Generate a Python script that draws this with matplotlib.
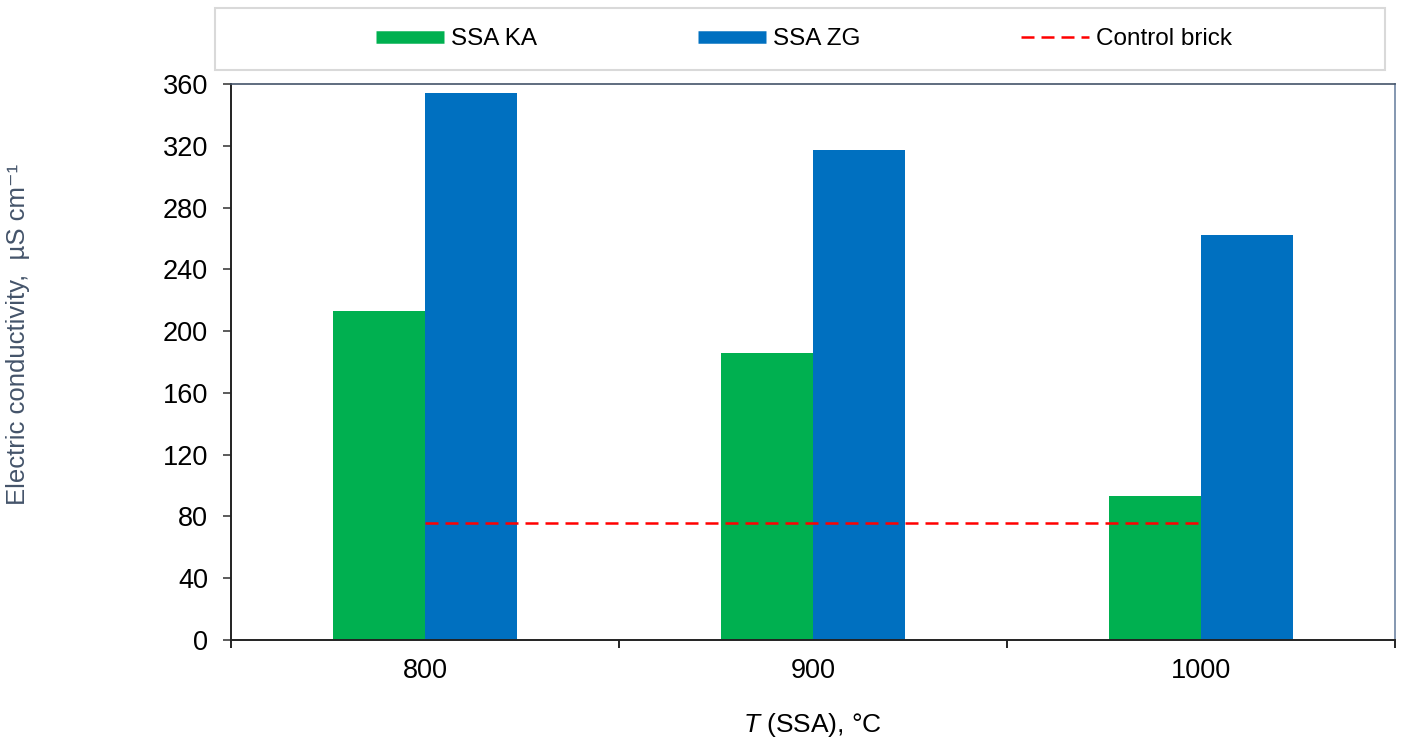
import matplotlib
matplotlib.use("Agg")
import matplotlib.pyplot as plt
from matplotlib.lines import Line2D
from matplotlib.patches import Rectangle
import numpy as np

plt.rcParams["font.family"] = ["Liberation Sans", "DejaVu Sans"]
plt.rcParams["mathtext.fontset"] = "custom"
plt.rcParams["mathtext.rm"] = "Liberation Sans"
plt.rcParams["mathtext.it"] = "Liberation Sans:italic"

# data
temperatures = ["800", "900", "1000"]
ssa_ka = [213, 186, 93]
ssa_zg = [354, 317, 262]
control_brick = [76, 76, 76]

y_ticks = [0, 40, 80, 120, 160, 200, 240, 280, 320, 360]

GREEN = "#00B050"
BLUE = "#0070C0"
RED = "#FF0000"
TICK_FS = 19.5
LEG_FS = 17.5

fig = plt.figure(figsize=(14.22, 7.41), dpi=100)
ax = fig.add_axes([0.1624, 0.1363, 0.8186, 0.7503])

x = np.arange(len(temperatures))
w = 0.237
ax.bar(x - w / 2, ssa_ka, width=w, color=GREEN, zorder=2)
ax.bar(x + w / 2, ssa_zg, width=w, color=BLUE, zorder=2)
ax.plot(x, control_brick, color=RED, lw=1.8, linestyle=(0, (5.2, 2.8)), zorder=3)

ax.set_xlim(-0.5, len(temperatures) - 0.5)
ax.set_ylim(0, 360)
ax.set_yticks(y_ticks)
ax.set_yticklabels([str(v) for v in y_ticks], fontsize=TICK_FS)

# category boundaries carry the ticks, centres carry the labels
ax.set_xticks(np.arange(len(temperatures) + 1) - 0.5)
ax.set_xticklabels([])
ax.set_xticks(x, minor=True)
ax.set_xticklabels(temperatures, minor=True, fontsize=TICK_FS)
ax.tick_params(axis="x", which="major", direction="out", length=6, width=1.2, color="black")
ax.tick_params(axis="x", which="minor", length=0, pad=13)
ax.tick_params(axis="y", direction="out", length=5.5, width=1.2, color="#404040", pad=11)

for side in ("left", "bottom"):
    ax.spines[side].set_color("#222222")
    ax.spines[side].set_linewidth(1.4)
ax.spines["top"].set_color("#44546A")
ax.spines["top"].set_linewidth(1.2)
ax.spines["right"].set_color("#8497B0")
ax.spines["right"].set_linewidth(1.4)

ax.set_xlabel(r"$\mathit{T}$ (SSA), °C", fontsize=19)
ax.xaxis.set_label_coords(0.5, -0.128)
ax.set_ylabel("Electric conductivity,  µS cm⁻¹", fontsize=18.5, color="#44546A")
ax.yaxis.set_label_coords(-0.173, 0.549)

# legend frame drawn separately: it is much wider than its content
fig.patches.append(Rectangle((215 / 1422, 1 - 70 / 741), 1170 / 1422, 62 / 741,
                             transform=fig.transFigure, facecolor="white",
                             edgecolor="#D9D9D9", lw=1.5, zorder=0))
handles = [
    Line2D([], [], color=GREEN, lw=9, solid_capstyle="butt"),
    Line2D([], [], color=BLUE, lw=9, solid_capstyle="butt"),
    Line2D([], [], color=RED, lw=1.8, linestyle=(0, (5.2, 2.8))),
]
fig.legend(handles, ["SSA KA", "SSA ZG", "Control brick"], loc="center",
           bbox_to_anchor=(804 / 1422, 1 - 39 / 741), ncol=3, frameon=False,
           fontsize=LEG_FS, handlelength=2.8, handletextpad=0.29, columnspacing=6.6,
           borderpad=0)

fig.savefig("out.png", dpi=100)
